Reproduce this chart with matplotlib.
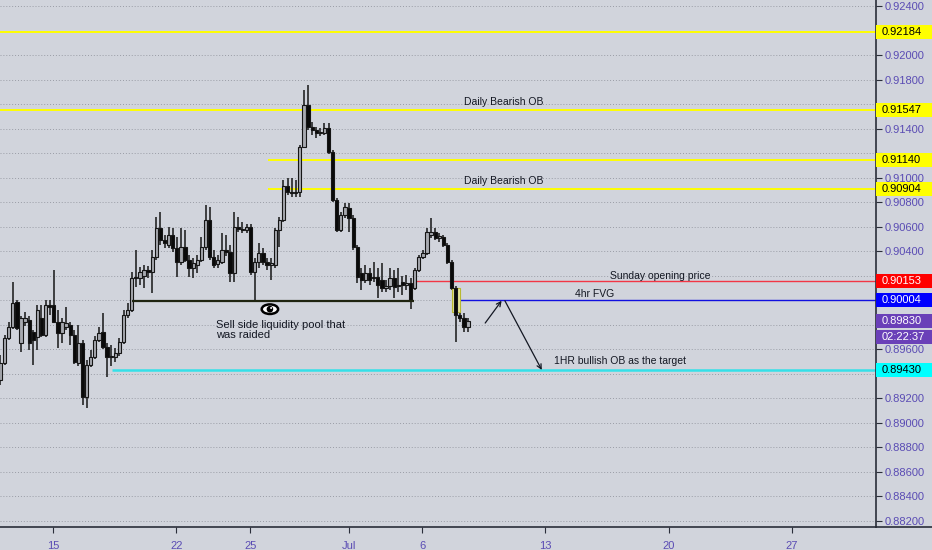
import matplotlib
matplotlib.use("Agg")
import matplotlib.pyplot as plt
from matplotlib.patches import Rectangle, Ellipse
from matplotlib.transforms import blended_transform_factory

# ---------------- data (4H candles) ----------------
opens = [0.89347,0.89486,0.89690,0.89780,0.89984,0.89649,0.89820,0.89837,0.89739,0.89698,
         0.89853,0.89714,0.89959,0.89959,0.89820,0.89731,0.89780,0.89796,0.89714,0.89486,
         0.89649,0.89208,0.89469,0.89535,0.89673,0.89739,0.89616,0.89535,0.89535,0.89567,
         0.89657,0.89878,0.89918,0.90180,0.90180,0.90196,0.90245,0.90229,0.90351,0.90588,
         0.90490,0.90449,0.90531,0.90424,0.90310,0.90433,0.90327,0.90261,0.90286,0.90327,
         0.90433,0.90653,0.90351,0.90294,0.90310,0.90408,0.90392,0.90220,0.90596,0.90580,
         0.90571,0.90596,0.90229,0.90310,0.90384,0.90310,0.90286,0.90286,0.90571,0.90653,
         0.90931,0.90882,0.90873,0.90882,0.91249,0.91592,0.91412,0.91388,0.91363,0.91363,
         0.91404,0.91208,0.90816,0.90571,0.90694,0.90751,0.90669,0.90433,0.90220,0.90163,
         0.90220,0.90180,0.90188,0.90163,0.90098,0.90114,0.90180,0.90114,0.90147,0.90122,
         0.90139,0.90098,0.90245,0.90351,0.90384,0.90531,0.90555,0.90506,0.90514,0.90449,
         0.90310,0.90098,0.89878,0.89853,0.89780]
highs = [0.89551,0.89714,0.89820,0.90147,0.90000,0.89869,0.89902,0.89869,0.89755,0.89959,
         0.89959,0.90000,0.90000,0.90245,0.89918,0.89853,0.89943,0.89820,0.89755,0.89796,
         0.89673,0.89510,0.89592,0.89706,0.89780,0.89894,0.89649,0.89633,0.89608,0.89690,
         0.89918,0.89975,0.90229,0.90408,0.90270,0.90286,0.90278,0.90408,0.90678,0.90718,
         0.90531,0.90596,0.90588,0.90514,0.90588,0.90571,0.90367,0.90343,0.90367,0.90514,
         0.90776,0.90759,0.90408,0.90367,0.90547,0.90531,0.90449,0.90718,0.90678,0.90637,
         0.90620,0.90620,0.90343,0.90465,0.90424,0.90343,0.90343,0.90588,0.90678,0.90980,
         0.90996,0.90996,0.90980,0.91265,0.91714,0.91755,0.91453,0.91412,0.91404,0.91445,
         0.91445,0.91224,0.90833,0.90718,0.90792,0.90792,0.90694,0.90449,0.90261,0.90286,
         0.90261,0.90310,0.90261,0.90302,0.90163,0.90261,0.90245,0.90261,0.90196,0.90204,
         0.90180,0.90261,0.90367,0.90408,0.90588,0.90669,0.90588,0.90547,0.90531,0.90465,
         0.90327,0.90114,0.89902,0.89894,0.89853]
lows = [0.89306,0.89469,0.89673,0.89763,0.89755,0.89576,0.89788,0.89592,0.89469,0.89592,
        0.89698,0.89698,0.89878,0.89812,0.89608,0.89649,0.89755,0.89633,0.89478,0.89461,
        0.89143,0.89118,0.89453,0.89518,0.89657,0.89600,0.89371,0.89461,0.89494,0.89543,
        0.89641,0.89853,0.89902,0.90106,0.90122,0.90098,0.90180,0.90057,0.90327,0.90449,
        0.90424,0.90424,0.90392,0.90188,0.90286,0.90310,0.90188,0.90180,0.90220,0.90310,
        0.90408,0.90327,0.90261,0.90261,0.90294,0.90359,0.90147,0.90147,0.90555,0.90547,
        0.90547,0.90204,0.90000,0.90261,0.90286,0.90245,0.90163,0.90261,0.90433,0.90637,
        0.90857,0.90841,0.90841,0.90841,0.91241,0.91388,0.91347,0.91322,0.91339,0.91347,
        0.91192,0.90800,0.90555,0.90555,0.90669,0.90555,0.90408,0.90139,0.90082,0.90139,
        0.90122,0.90147,0.90016,0.90065,0.90065,0.90082,0.90016,0.90065,0.90041,0.90082,
        0.89927,0.90082,0.90229,0.90335,0.90367,0.90506,0.90490,0.90473,0.90433,0.90294,
        0.90082,0.89657,0.89820,0.89739,0.89739]
closes = [0.89486,0.89690,0.89780,0.89975,0.89771,0.89853,0.89853,0.89649,0.89673,0.89918,
          0.89714,0.89959,0.89943,0.89820,0.89731,0.89820,0.89812,0.89714,0.89494,0.89649,
          0.89208,0.89469,0.89535,0.89673,0.89731,0.89616,0.89535,0.89543,0.89567,0.89657,
          0.89878,0.89918,0.90180,0.90188,0.90229,0.90245,0.90229,0.90351,0.90588,0.90490,
          0.90465,0.90531,0.90424,0.90310,0.90433,0.90327,0.90261,0.90302,0.90327,0.90433,
          0.90653,0.90351,0.90286,0.90327,0.90408,0.90392,0.90220,0.90596,0.90580,0.90571,
          0.90596,0.90229,0.90310,0.90384,0.90310,0.90286,0.90302,0.90571,0.90653,0.90931,
          0.90882,0.90873,0.90882,0.91249,0.91592,0.91412,0.91388,0.91363,0.91371,0.91404,
          0.91208,0.90816,0.90571,0.90694,0.90759,0.90669,0.90433,0.90188,0.90163,0.90220,
          0.90163,0.90188,0.90122,0.90098,0.90114,0.90180,0.90106,0.90122,0.90122,0.90139,
          0.90000,0.90245,0.90351,0.90384,0.90555,0.90555,0.90506,0.90522,0.90449,0.90310,
          0.90098,0.89878,0.89853,0.89780,0.89830]

price_ticks = [0.882, 0.884, 0.886, 0.888, 0.890, 0.892, 0.894, 0.896, 0.898, 0.900, 0.902,
               0.904, 0.906, 0.908, 0.910, 0.912, 0.914, 0.916, 0.918, 0.920, 0.922, 0.924]
date_labels = ["15", "22", "25", "Jul", "6", "13", "20", "27"]
date_bars = [12.9, 42.9, 60.9, 84.9, 102.9, 132.9, 162.9, 192.9]

# key levels (price, start bar)
daily_ob_top = 0.92184
daily_ob_1 = 0.91547
daily_ob_2_hi, daily_ob_2_lo, daily_ob_2_start = 0.91140, 0.90904, 65.2
sunday_open, sunday_start = 0.90153, 101.0
fvg_level, fvg_start = 0.90004, 112.0
target_level, target_start = 0.89430, 27.2
liq_level, liq_start, liq_end = 0.89995, 32.0, 100.8
fvg_box = (110.1, 112.1, 0.89902, 0.90098)
current_price = 0.89830
countdown = "02:22:37"

# ---------------- style ----------------
BG = "#d1d4dc"
TXT = "#131722"
AXC = "#5a4cb4"
plt.rcParams['font.family'] = ['Liberation Sans', 'DejaVu Sans']

fig = plt.figure(figsize=(9.32, 5.5), dpi=100)
fig.patch.set_facecolor(BG)
ax = fig.add_axes([0, 23 / 550, 876 / 932, 527 / 550])
ax.set_facecolor(BG)
ax.set_xlim(-0.12, 213.5)
ax.set_ylim(0.88147, 0.92449)

for s in ("left", "top"):
    ax.spines[s].set_visible(False)
for s in ("right", "bottom"):
    ax.spines[s].set_color("#2a2e39")
    ax.spines[s].set_linewidth(1.2)

box_levels = [daily_ob_top, daily_ob_1, daily_ob_2_hi, daily_ob_2_lo, sunday_open,
              fvg_level, target_level, current_price, current_price - 16 / 12250]

ax.yaxis.tick_right()
ax.set_yticks(price_ticks)
ax.set_yticklabels([("" if min(abs(p - b) for b in box_levels) < 0.0009 else f"{p:.5f}")
                    for p in price_ticks])
ax.tick_params(axis="y", colors="#2a2e39", labelcolor=AXC, labelsize=8, length=4, pad=2)
ax.set_xticks(date_bars)
ax.set_xticklabels(date_labels)
ax.tick_params(axis="x", colors="#2a2e39", labelcolor=AXC, labelsize=8, length=4, pad=6)
ax.grid(axis="y", color="#9a9da6", linestyle=(0, (1, 2)), linewidth=0.7)
ax.grid(axis="x", visible=False)
ax.set_axisbelow(True)

fig.add_artist(plt.Line2D([876 / 932, 1], [23 / 550, 23 / 550], color="#2a2e39", lw=1.2,
                          transform=fig.transFigure))

# ---------------- candles ----------------
bw = 0.8
for i, (o, h, l, c) in enumerate(zip(opens, highs, lows, closes)):
    ax.vlines(i, l, h, color="#161616", lw=1.1, zorder=3)
    bull = c >= o
    lo_b = min(o, c)
    hgt = max(abs(c - o), 0.00003)
    ax.add_patch(Rectangle((i - bw / 2, lo_b), bw, hgt,
                           facecolor="#a8aab0" if bull else "#0a0a0a",
                           edgecolor="#161616", lw=0.8, zorder=4))

xmax = 213.5
ax.hlines(daily_ob_top, -0.12, xmax, color="#ffff00", lw=1.4, zorder=2)
ax.hlines(daily_ob_1, -0.12, xmax, color="#ffff00", lw=1.4, zorder=2)
ax.hlines([daily_ob_2_hi, daily_ob_2_lo], daily_ob_2_start, xmax, color="#ffff00", lw=1.4, zorder=2)
ax.hlines(sunday_open, sunday_start, xmax, color="#f23645", lw=1.0, zorder=2)
ax.hlines(fvg_level, fvg_start, xmax, color="#1010e0", lw=1.0, zorder=2)
ax.hlines(target_level, target_start, xmax, color="#35e0e8", lw=1.8, zorder=2)
ax.hlines(liq_level, liq_start, liq_end, color="#1f2410", lw=1.6, zorder=5)

x0, x1, y0, y1 = fvg_box
ax.add_patch(Rectangle((x0, y0), x1 - x0, y1 - y0, facecolor="#e8e89a", edgecolor="#b8b830",
                       lw=0.8, zorder=3.5))

ax.text(122.8, daily_ob_1 + 0.00025, "Daily Bearish OB", ha="center", va="bottom", fontsize=7.5, color=TXT)
ax.text(122.8, daily_ob_2_lo + 0.00025, "Daily Bearish OB", ha="center", va="bottom", fontsize=7.5, color=TXT)
ax.text(160.9, sunday_open + 0.00002, "Sunday opening price", ha="center", va="bottom", fontsize=7.5, color=TXT)
ax.text(144.8, fvg_level + 0.00005, "4hr FVG", ha="center", va="bottom", fontsize=7.5, color=TXT)
ax.text(151.1, target_level + 0.00035, "1HR bullish OB as the target", ha="center", va="bottom", fontsize=7.5, color=TXT)
ax.text(52.6, 0.89835, "Sell side liquidity pool that\nwas raided", ha="left", va="top",
        fontsize=8, color=TXT, linespacing=1.0)

# eye icon
ex, ey = 65.7, 0.89925
ax.add_patch(Ellipse((ex, ey), 4.0, 0.00078, facecolor="white", edgecolor="black", lw=1.8, zorder=6))
ax.add_patch(Ellipse((ex, ey), 1.6, 0.00055, facecolor="black", edgecolor="none", zorder=7))
ax.add_patch(Ellipse((ex + 0.3, ey + 0.00010), 0.5, 0.00016, facecolor="white", edgecolor="none", zorder=8))

# arrows
ax.annotate("", xy=(122.2, 0.89994), xytext=(118.2, 0.89812),
            arrowprops=dict(arrowstyle="->", color=TXT, lw=0.9, shrinkA=0, shrinkB=0, mutation_scale=8), zorder=6)
ax.annotate("", xy=(132.0, 0.89429), xytext=(123.0, 0.89994),
            arrowprops=dict(arrowstyle="->", color=TXT, lw=0.9, shrinkA=0, shrinkB=0, mutation_scale=8), zorder=6)

# ---------------- right axis colored labels ----------------
btf = blended_transform_factory(ax.transAxes, ax.transData)
box_w = 56 / 876
half_h = 7.0 / 12250

def price_box(price, text, face, color):
    ax.add_patch(Rectangle((1.0, price - half_h), box_w, 2 * half_h, transform=btf,
                           facecolor=face, edgecolor="none", clip_on=False, zorder=20))
    ax.text(1.0 + 6 / 876, price, text, transform=btf, ha="left", va="center",
            fontsize=8, color=color, clip_on=False, zorder=21)

price_box(daily_ob_top, f"{daily_ob_top:.5f}", "#ffff00", "black")
price_box(daily_ob_1, f"{daily_ob_1:.5f}", "#ffff00", "black")
price_box(daily_ob_2_hi, f"{daily_ob_2_hi:.5f}", "#ffff00", "black")
price_box(daily_ob_2_lo, f"{daily_ob_2_lo:.5f}", "#ffff00", "black")
price_box(sunday_open, f"{sunday_open:.5f}", "#ff0000", "white")
price_box(fvg_level, f"{fvg_level:.5f}", "#0000ff", "white")
price_box(target_level, f"{target_level:.5f}", "#00ffff", "black")
price_box(current_price, f"{current_price:.5f}", "#6a40b8", "white")
price_box(current_price - 16 / 12250, countdown, "#6a40b8", "white")

fig.savefig("out.png", dpi=100, facecolor=BG)
